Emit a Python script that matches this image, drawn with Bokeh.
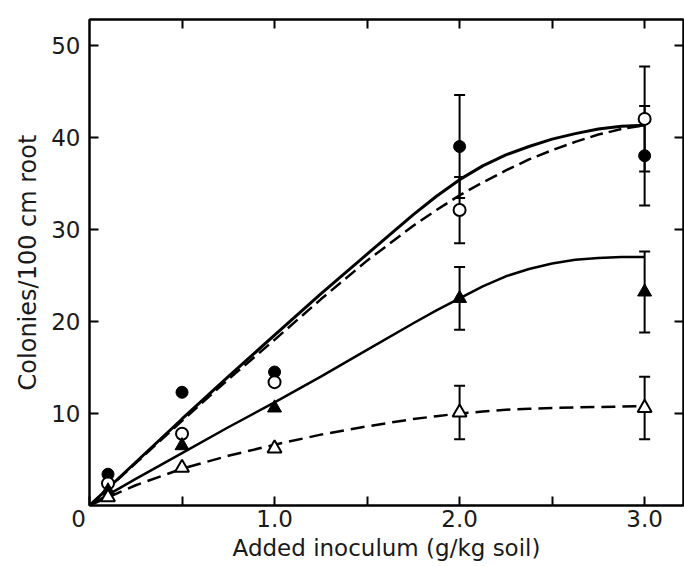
from bokeh.plotting import figure
from bokeh.models import (Range1d, LinearAxis, FixedTicker, Whisker, TeeHead,
                          ColumnDataSource, NumeralTickFormatter)
from bokeh.embed import file_html
from bokeh.resources import INLINE

# ---- data ----
dose = [0.1, 0.5, 1.0, 2.0, 3.0]

filled_circle = [3.4, 12.3, 14.5, 39.0, 38.0]
filled_circle_err = [0, 0, 0, 5.6, 5.4]
open_circle = [2.4, 7.8, 13.4, 32.1, 42.0]
open_circle_err = [0, 0, 0, 3.6, 5.7]
filled_tri = [1.6, 6.5, 10.6, 22.5, 23.2]
filled_tri_err = [0, 0, 0, 3.4, 4.4]
open_tri = [0.9, 4.1, 6.2, 10.1, 10.6]
open_tri_err = [0, 0, 0, 2.9, 3.4]

curve_x = [0, 0.25, 0.5, 0.75, 1.0, 1.25, 1.5, 1.75, 1.875, 2.0, 2.125, 2.25,
           2.375, 2.5, 2.625, 2.75, 2.875, 3.0]
curve_filled_circle = [0, 4.7, 9.4, 14.0, 18.5, 23.0, 27.3, 31.6, 33.6, 35.4, 36.9, 38.1,
                       39.0, 39.8, 40.4, 40.9, 41.2, 41.3]
curve_open_circle = [0, 4.6, 9.2, 13.7, 18.0, 22.4, 26.6, 30.4, 32.1, 33.7, 35.1, 36.4,
                     37.6, 38.6, 39.5, 40.3, 40.9, 41.3]
curve_filled_tri = [0, 2.9, 5.7, 8.5, 11.2, 14.0, 16.9, 19.8, 21.2, 22.5, 23.8, 24.9,
                    25.7, 26.3, 26.7, 26.9, 27.0, 27.0]
curve_open_tri = [0, 2.2, 4.0, 5.4, 6.6, 7.7, 8.6, 9.4, 9.7, 10.0, 10.2, 10.4,
                  10.5, 10.6, 10.65, 10.7, 10.75, 10.8]

x_major = [0.0, 1.0, 2.0, 3.0]
x_minor = [0.5, 1.5, 2.5]
x_all = [0.5, 1.0, 1.5, 2.0, 2.5, 3.0]
y_major = [10, 20, 30, 40, 50]
origin_label = "0\u00a0\u00a0\u00a0"

FONT = "DejaVu Sans"
INK = "#1a1a1a"

p = figure(width=684, height=566, x_range=Range1d(0, 3.21), y_range=Range1d(0, 52.8),
           output_backend="svg", toolbar_location=None,
           min_border_left=89, min_border_right=1, min_border_top=19, min_border_bottom=61)
p.grid.visible = False
p.outline_line_color = "black"
p.outline_line_width = 2
p.background_fill_color = "white"
p.border_fill_color = "white"

for ax in p.xaxis:
    ax.ticker = FixedTicker(ticks=x_major, minor_ticks=x_minor)
    ax.formatter = NumeralTickFormatter(format="0.0")
    ax.major_label_overrides = {0.0: origin_label}
    ax.axis_label = "Added inoculum (g/kg soil)"
for ax in p.yaxis:
    ax.ticker = FixedTicker(ticks=y_major, minor_ticks=[])
    ax.axis_label = "Colonies/100 cm root"

for ax in list(p.xaxis) + list(p.yaxis):
    ax.axis_line_width = 2
    ax.major_tick_in = 9
    ax.major_tick_out = 0
    ax.minor_tick_in = 9
    ax.minor_tick_out = 0
    ax.major_tick_line_width = 2
    ax.minor_tick_line_width = 2
    ax.major_label_text_font = FONT
    ax.major_label_text_font_size = "23px"
    ax.major_label_text_color = INK
    ax.axis_label_text_font = FONT
    ax.axis_label_text_font_size = "23px"
    ax.axis_label_text_font_style = "normal"
    ax.axis_label_text_color = INK
p.yaxis.axis_label_text_font_size = "24px"
p.xaxis.major_label_standoff = 0
p.xaxis.axis_label_standoff = 0
p.yaxis.major_label_standoff = 9
p.yaxis.axis_label_standoff = 6

# mirrored inward ticks on top and right (minor ticks only, so no labels)
top = LinearAxis(ticker=FixedTicker(ticks=[], minor_ticks=x_all))
right = LinearAxis(ticker=FixedTicker(ticks=[], minor_ticks=y_major))
for ax in (top, right):
    ax.axis_line_width = 2
    ax.minor_tick_in = 9
    ax.minor_tick_out = 0
    ax.minor_tick_line_width = 2
    ax.major_tick_in = 0
    ax.major_tick_out = 0
    ax.major_label_standoff = 0
p.add_layout(top, "above")
p.add_layout(right, "right")

# error bars
series = [
    (filled_circle, filled_circle_err),
    (open_circle, open_circle_err),
    (filled_tri, filled_tri_err),
    (open_tri, open_tri_err),
]
for vals, errs in series:
    xs = [d for d, e in zip(dose, errs) if e > 0]
    lo = [v - e for v, e in zip(vals, errs) if e > 0]
    hi = [v + e for v, e in zip(vals, errs) if e > 0]
    src = ColumnDataSource(dict(x=xs, lower=lo, upper=hi))
    w = Whisker(base="x", lower="lower", upper="upper", source=src,
                line_color="black", line_width=2,
                upper_head=TeeHead(size=11, line_width=2, line_color="black"),
                lower_head=TeeHead(size=11, line_width=2, line_color="black"))
    p.add_layout(w)

# fitted curves
p.line(curve_x, curve_filled_circle, line_color="black", line_width=3)
p.line(curve_x, curve_open_circle, line_color="black", line_width=2.5, line_dash="13 6")
p.line(curve_x, curve_filled_tri, line_color="black", line_width=2.5)
p.line(curve_x, curve_open_tri, line_color="black", line_width=2.5, line_dash="14 7")

# markers
p.scatter(dose, filled_circle, marker="circle", size=12, fill_color="black", line_color="black")
p.scatter(dose, open_circle, marker="circle", size=12, fill_color="white", line_color="black", line_width=2)
p.scatter(dose, filled_tri, marker="triangle", size=14, fill_color="black", line_color="black")
p.scatter(dose, open_tri, marker="triangle", size=14, fill_color="white", line_color="black", line_width=2)

open("out.html", "w").write(file_html(p, INLINE))
